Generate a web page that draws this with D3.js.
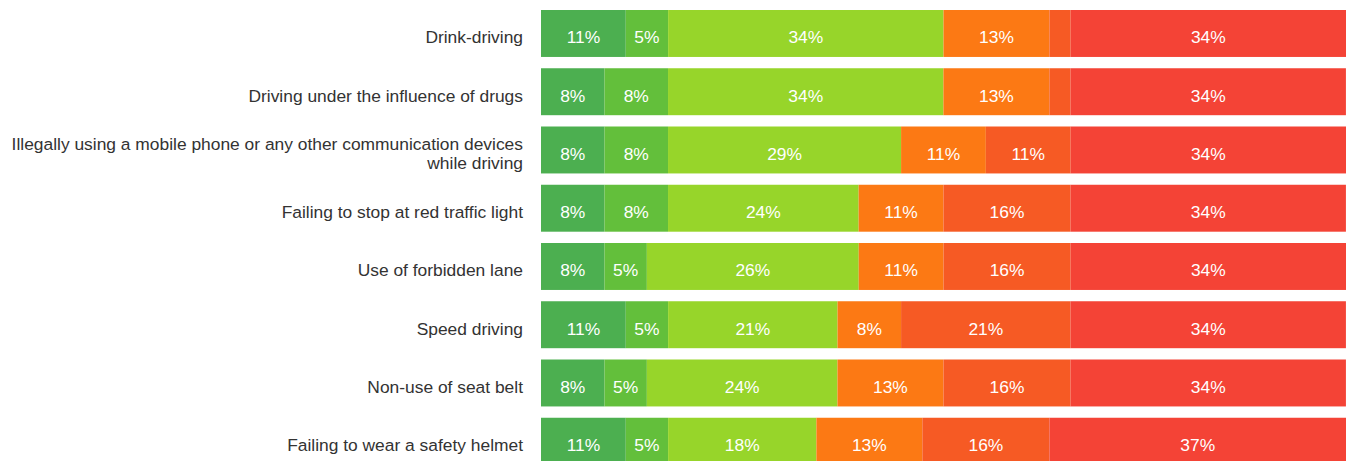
<!DOCTYPE html>
<html>
<head>
<meta charset="utf-8">
<script src="https://cdn.jsdelivr.net/npm/d3@7"></script>
<style>
	body { margin: 0; background: #fff; }
	svg { display: block; font-family: "Liberation Sans", Arial, sans-serif; }
</style>
</head>
<body>
<div id="graph"></div>
<script>
var width = 1347, height = 461;
var padding = {left: 541, right: 1, top: 4.35};

var categories = [
	"Drink-driving",
	"Driving under the influence of drugs",
	"Illegally using a mobile phone or any other communication devices|while driving",
	"Failing to stop at red traffic light",
	"Use of forbidden lane",
	"Speed driving",
	"Non-use of seat belt",
	"Failing to wear a safety helmet"
];

// percentages per answer level, one array per level
var level1 = [10.53, 7.89, 7.89, 7.89, 7.89, 10.53, 7.89, 10.53];
var level2 = [5.26, 7.89, 7.89, 7.89, 5.26, 5.26, 5.26, 5.26];
var level3 = [34.21, 34.21, 28.95, 23.68, 26.32, 21.05, 23.68, 18.42];
var level4 = [13.16, 13.16, 10.53, 10.53, 10.53, 7.89, 13.16, 13.16];
var level5 = [2.63, 2.63, 10.53, 15.79, 15.79, 21.05, 15.79, 15.79];
var level6 = [34.21, 34.21, 34.21, 34.21, 34.21, 34.21, 34.21, 36.84];

var levels = [level1, level2, level3, level4, level5, level6];
var colors = ["#4caf50", "#63bf3b", "#97d52a", "#fc7914", "#f65a24", "#f44336"];

var rows = categories.map(function(c, i) {
	var r = {name: c};
	levels.forEach(function(l, j) { r["l" + j] = l[i]; });
	return r;
});
var keys = levels.map(function(l, j) { return "l" + j; });
var series = d3.stack().keys(keys)(rows);

var graph = d3.select("div#graph")
	.append("svg")
	.attr("width", width)
	.attr("height", height);

var xScale = d3.scaleLinear()
	.domain([0, 100])
	.range([padding.left, width - padding.right]);

var yScale = d3.scaleBand()
	.domain(categories)
	.range([padding.top, padding.top + 8 * 58.25])
	.paddingInner(0.194)
	.paddingOuter(0.097);

var groups = graph.selectAll("g.series")
	.data(series)
	.enter()
	.append("g")
	.attr("class", "series")
	.attr("fill", function(d, i) { return colors[i]; });

groups.selectAll("rect")
	.data(function(d) { return d; })
	.enter()
	.append("rect")
	.attr("x", function(d) { return xScale(d[0]); })
	.attr("y", function(d) { return yScale(d.data.name); })
	.attr("width", function(d) { return xScale(d[1]) - xScale(d[0]); })
	.attr("height", yScale.bandwidth());

groups.selectAll("text")
	.data(function(d) { return d.filter(function(D) { return D[1] - D[0] > 4; }); })
	.enter()
	.append("text")
	.attr("x", function(d) { return (xScale(d[0]) + xScale(d[1])) / 2; })
	.attr("y", function(d) { return yScale(d.data.name) + yScale.bandwidth() / 2; })
	.attr("dy", "0.57em")
	.attr("text-anchor", "middle")
	.attr("fill", "#fff")
	.style("font-size", "17.4px")
	.text(function(d) { return d3.format(".0f")(d[1] - d[0]) + "%"; });

// category labels, "|" splits lines
var labels = graph.append("g")
	.selectAll("text")
	.data(categories)
	.enter()
	.append("text")
	.attr("text-anchor", "end")
	.attr("fill", "#333")
	.style("font-size", "17.4px")
	.attr("y", function(d) { return yScale(d) + yScale.bandwidth() / 2; });

labels.each(function(d) {
	var lines = d.split("|");
	var t = d3.select(this);
	lines.forEach(function(s, i) {
		t.append("tspan")
			.attr("x", padding.left - 18)
			.attr("dy", i == 0 ? (0.57 - (lines.length - 1) * 0.55) + "em" : "1.1em")
			.text(s);
	});
});
</script>
</body>
</html>
